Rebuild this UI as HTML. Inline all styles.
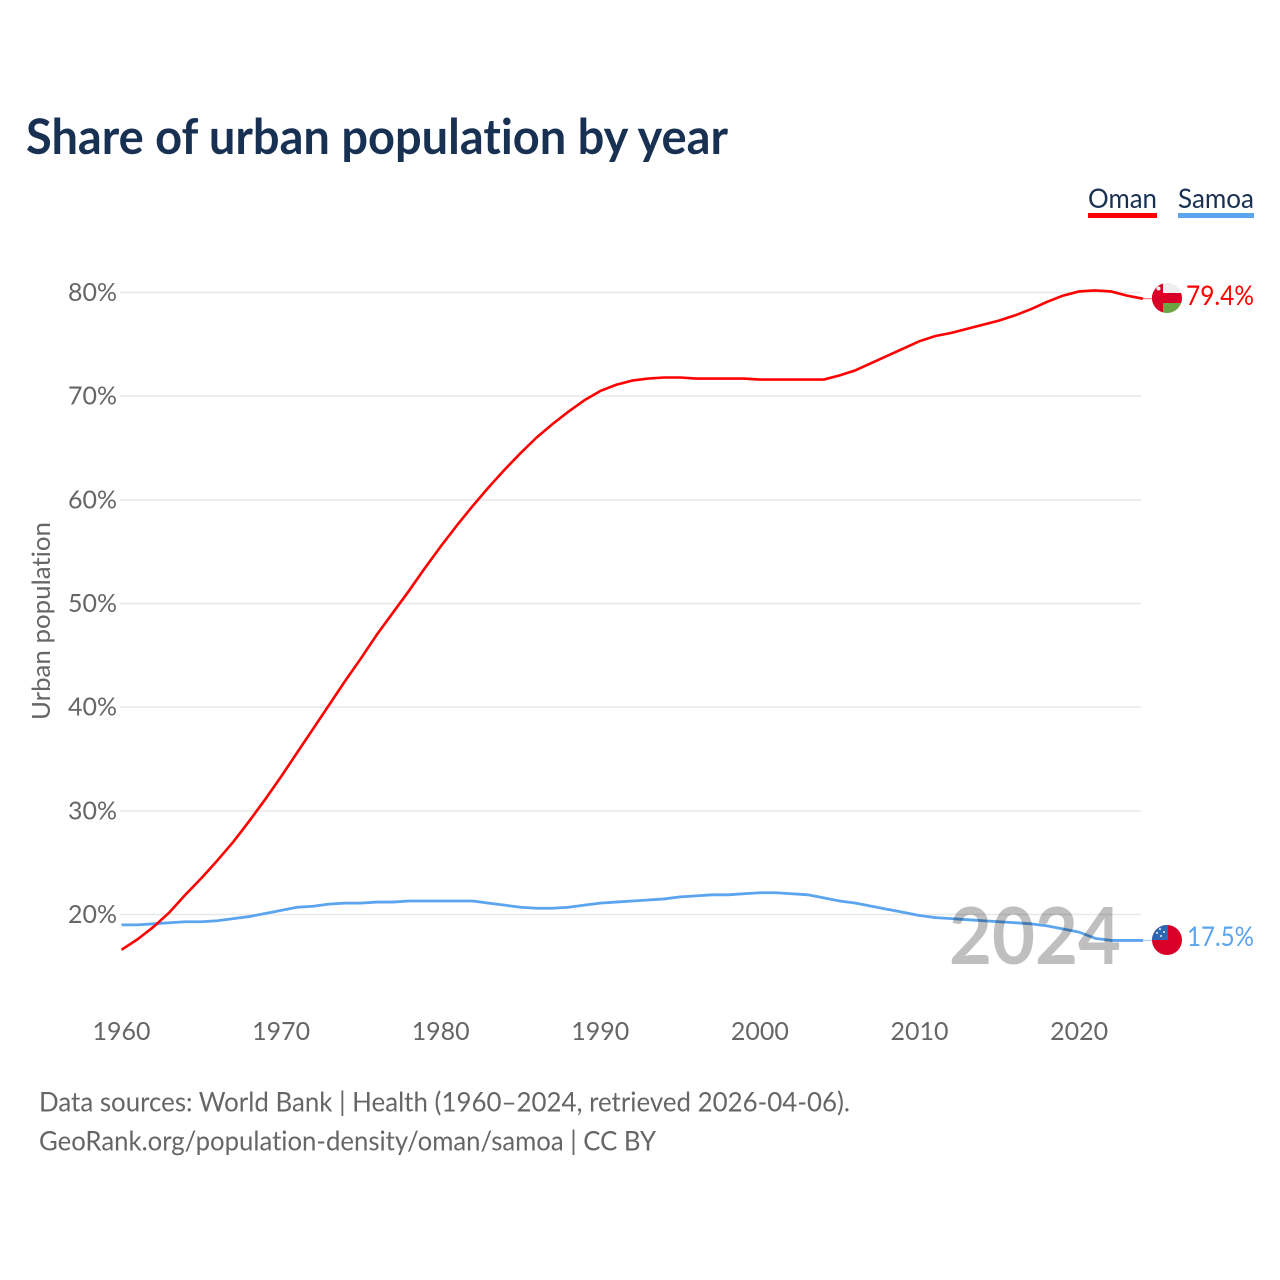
<!DOCTYPE html>
<html lang="en">
<head>
<meta charset="utf-8">
<title>Share of urban population by year</title>
<style>
html,body{margin:0;padding:0;background:#fff;width:1280px;height:1280px;overflow:hidden}
svg{display:block;font-family:"Lato","Carlito","Liberation Sans",sans-serif;font-variant-ligatures:none}
</style>
</head>
<body>
<svg id="chart" xmlns="http://www.w3.org/2000/svg" width="1280" height="1280" viewBox="0 0 1280 1280">
  <defs>
    <clipPath id="flag-clip-oman"><circle cx="1167" cy="298" r="15"/></clipPath>
    <clipPath id="flag-clip-samoa"><circle cx="1167" cy="940" r="15"/></clipPath>
  </defs>
  <rect width="1280" height="1280" fill="#ffffff"/>
  <text x="26" y="154" font-size="49" font-weight="700" fill="#183153" textLength="702" lengthAdjust="spacingAndGlyphs">Share of urban population by year</text>

  <g>
    <text x="1088" y="208" font-size="27" fill="#183153" textLength="69" lengthAdjust="spacingAndGlyphs">Oman</text>
    <rect x="1088" y="213" width="69" height="5" fill="#ff0000"/>
  </g>
  <g>
    <text x="1178" y="208" font-size="27" fill="#183153" textLength="76" lengthAdjust="spacingAndGlyphs">Samoa</text>
    <rect x="1178" y="213" width="76" height="5" fill="#5ba4ee"/>
  </g>

  <text transform="translate(50,621) rotate(-90)" text-anchor="middle" font-size="25.500" fill="#666666" textLength="198" lengthAdjust="spacingAndGlyphs">Urban population</text>

  <g id="grid"></g>
  <g id="yticks"></g>
  <g id="xticks"></g>

  <g id="series"></g>

  <text id="year-label" x="1035" y="964" text-anchor="middle" font-size="79" font-weight="700" fill="#bfbfbf" textLength="172" lengthAdjust="spacingAndGlyphs" style="mix-blend-mode:multiply">2024</text>

  <g clip-path="url(#flag-clip-oman)">
    <rect x="1152" y="283" width="30" height="30" fill="#efefef"/>
    <rect x="1152" y="293" width="30" height="10" fill="#d80027"/>
    <rect x="1163" y="303" width="19" height="10" fill="#6da544"/>
    <rect x="1152" y="283" width="11" height="30" fill="#d80027"/>
    <circle cx="1158.500" cy="288.500" r="2" fill="#efefef"/>
  </g>
  <g clip-path="url(#flag-clip-samoa)">
    <rect x="1152" y="925" width="30" height="30" fill="#d80027"/>
    <rect x="1152" y="925" width="16" height="15" fill="#2e67b2"/>
    <circle cx="1160" cy="929" r="1" fill="#e8eef7"/>
    <circle cx="1164" cy="932" r="1" fill="#e8eef7"/>
    <circle cx="1157" cy="933" r="1" fill="#e8eef7"/>
    <circle cx="1161" cy="936" r="1" fill="#e8eef7"/>
  </g>

  <text id="value-oman" x="1186" y="305" font-size="27" fill="#ff0000" textLength="68" lengthAdjust="spacingAndGlyphs">79.4%</text>
  <text id="value-samoa" x="1187" y="946" font-size="27" fill="#5ba4ee" textLength="67" lengthAdjust="spacingAndGlyphs">17.5%</text>

  <text x="39" y="1111.500" font-size="27" fill="#666666" textLength="811" lengthAdjust="spacingAndGlyphs">Data sources: World Bank | Health (1960–2024, retrieved 2026-04-06).</text>
  <text x="39" y="1150.500" font-size="27" fill="#666666" textLength="617" lengthAdjust="spacingAndGlyphs">GeoRank.org/population-density/oman/samoa | CC BY</text>
</svg>
<script>
var startYear = 1960;
var yTickValues = [20, 30, 40, 50, 60, 70, 80];
var xTickValues = [1960, 1970, 1980, 1990, 2000, 2010, 2020];
var omanValues = [16.6,17.6,18.8,20.2,21.9,23.5,25.2,27.0,29.0,31.1,33.3,35.6,37.9,40.2,42.5,44.7,47.0,49.1,51.2,53.4,55.5,57.5,59.4,61.2,62.9,64.5,66.0,67.3,68.5,69.6,70.5,71.1,71.5,71.7,71.8,71.8,71.7,71.7,71.7,71.7,71.6,71.6,71.6,71.6,71.6,72.0,72.5,73.2,73.9,74.6,75.3,75.8,76.1,76.5,76.9,77.3,77.8,78.4,79.1,79.7,80.1,80.2,80.1,79.7,79.4];
var samoaValues = [19.0,19.0,19.1,19.2,19.3,19.3,19.4,19.6,19.8,20.1,20.4,20.7,20.8,21.0,21.1,21.1,21.2,21.2,21.3,21.3,21.3,21.3,21.3,21.1,20.9,20.7,20.6,20.6,20.7,20.9,21.1,21.2,21.3,21.4,21.5,21.7,21.8,21.9,21.9,22.0,22.1,22.1,22.0,21.9,21.6,21.3,21.1,20.8,20.5,20.2,19.9,19.7,19.6,19.5,19.4,19.3,19.2,19.1,18.9,18.6,18.3,17.7,17.5,17.5,17.5];

var NS = 'http://www.w3.org/2000/svg';
function xScale(year) { return 121.5 + (year - 1960) * 15.96; }
function yScale(pct) { return 914.5 - (pct - 20) * 10.367; }

function makeEl(tag, parentId) {
  var el = document.createElementNS(NS, tag);
  document.getElementById(parentId).appendChild(el);
  return el;
}

yTickValues.forEach(function (v) {
  var line = makeEl('line', 'grid');
  
  
  line.setAttribute('x1', 120);
  line.setAttribute('x2', 1141);
  line.setAttribute('y1', yScale(v));
  line.setAttribute('y2', yScale(v));
  line.setAttribute('stroke', '#e8e8e8');
  line.setAttribute('stroke-width', 1.5);

  var label = makeEl('text', 'yticks');
  
  
  label.setAttribute('x', 117);
  label.setAttribute('y', yScale(v) + 8.5);
  label.setAttribute('text-anchor', 'end');
  label.setAttribute('font-size', 25.5);
  label.setAttribute('fill', '#666666');
  label.setAttribute('textLength', 49);
  label.setAttribute('lengthAdjust', 'spacingAndGlyphs');
  label.textContent = v + '%';
});

xTickValues.forEach(function (v) {
  var label = makeEl('text', 'xticks');
  
  
  label.setAttribute('x', xScale(v));
  label.setAttribute('y', 1040);
  label.setAttribute('text-anchor', 'middle');
  label.setAttribute('font-size', 25.5);
  label.setAttribute('fill', '#666666');
  label.setAttribute('textLength', 58);
  label.setAttribute('lengthAdjust', 'spacingAndGlyphs');
  label.textContent = v;
});

function pathFor(values) {
  return values.map(function (v, i) {
    return (i ? 'L' : 'M') + xScale(startYear + i).toFixed(2) + ' ' + yScale(v).toFixed(2);
  }).join(' ');
}

function drawConnector(values, color) {
  var last = values[values.length - 1];
  var lastYear = startYear + values.length - 1;
  var c = makeEl('line', 'series');
  
  
  c.setAttribute('x1', xScale(lastYear));
  c.setAttribute('x2', xScale(lastYear) + 9);
  c.setAttribute('y1', yScale(last));
  c.setAttribute('y2', yScale(last));
  c.setAttribute('stroke', color);
  c.setAttribute('stroke-width', 1);
  c.setAttribute('stroke-opacity', 0.6);
}

var samoaLine = makeEl('path', 'series');


samoaLine.setAttribute('d', pathFor(samoaValues));
samoaLine.setAttribute('fill', 'none');
samoaLine.setAttribute('stroke', '#5ba4ee');
samoaLine.setAttribute('stroke-width', 2.8);
samoaLine.setAttribute('stroke-linejoin', 'round');

var omanLine = makeEl('path', 'series');


omanLine.setAttribute('d', pathFor(omanValues));
omanLine.setAttribute('fill', 'none');
omanLine.setAttribute('stroke', '#ff0000');
omanLine.setAttribute('stroke-width', 2.6);
omanLine.setAttribute('stroke-linejoin', 'round');

drawConnector(samoaValues, '#5ba4ee');
drawConnector(omanValues, '#ff0000');
</script>
</body>
</html>
